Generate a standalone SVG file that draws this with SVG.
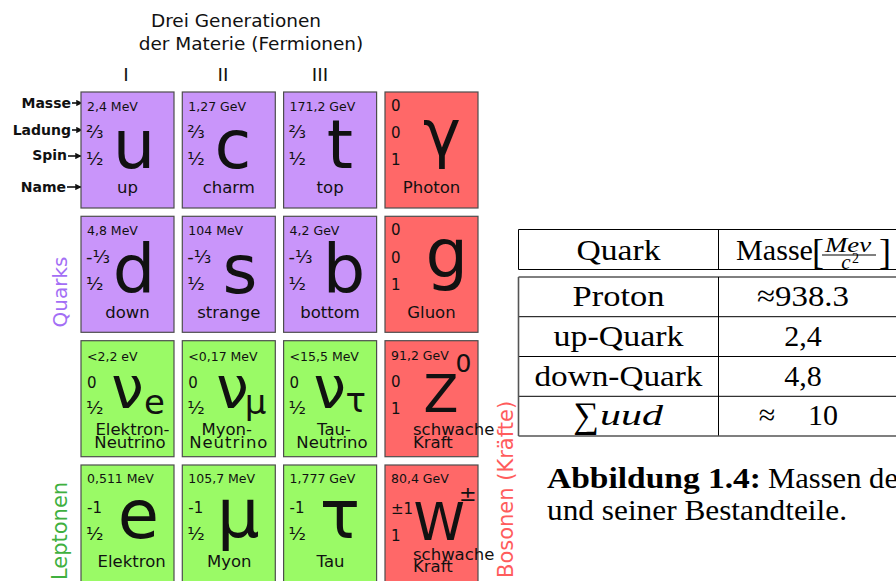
<svg xmlns="http://www.w3.org/2000/svg" width="896" height="581" viewBox="0 0 896 581">
  <defs>
    <marker id="arr" viewBox="0 0 10 10" refX="9" refY="5" markerWidth="4" markerHeight="4" orient="auto" markerUnits="strokeWidth">
      <path d="M0,0 L10,5 L0,10 z" fill="#111"/>
    </marker>
    <style>
      text { font-family: "DejaVu Sans", "Noto Sans", sans-serif; fill: #111; }
      .box { stroke: #4d4d4d; stroke-width: 1.2; }
      .q { fill: #c995fa; }
      .b { fill: #ff6868; }
      .l { fill: #9afa66; }
      .m { font-size: 12.5px; }
      .v { font-size: 15px; }
      .fr { font-size: 18px; }
      .s { font-size: 67px; text-anchor: middle; }
      .nu { font-size: 58px; text-anchor: middle; }
      .sub { font-size: 34px; }
      .n { font-size: 16.5px; text-anchor: middle; }
      .nl { font-size: 16.5px; }
      .lbl { font-size: 14px; font-weight: bold; text-anchor: end; }
      .hd { font-size: 18.5px; text-anchor: middle; }
      .grp { font-size: 20px; text-anchor: middle; }
      .conn line { stroke: #111; stroke-width: 1.6; }
      .tex { font-family: "Liberation Serif", "DejaVu Serif", serif; font-size: 30px; fill: #000; }
      .it { font-style: italic; }
      .tl { stroke: #000; stroke-width: 1; fill: none; }
    </style>
  </defs>
  <rect width="896" height="581" fill="#fff"/>

  <!-- headings -->
  <g id="heading">
    <text class="hd" x="236" y="27">Drei Generationen</text>
    <text class="hd" x="251" y="50">der Materie (Fermionen)</text>
    <text class="hd" x="126" y="81">I</text>
    <text class="hd" x="223" y="81">II</text>
    <text class="hd" x="320" y="81">III</text>
  </g>

  <!-- property labels -->
  <g id="labels">
    <text class="lbl" x="71" y="108">Masse</text>
    <text class="lbl" x="71" y="135">Ladung</text>
    <text class="lbl" x="67" y="160">Spin</text>
    <text class="lbl" x="66" y="192">Name</text>
  </g>
  <g class="conn" id="connectors">
    <line x1="72" y1="103" x2="82" y2="103" marker-end="url(#arr)"/>
    <line x1="72" y1="130" x2="82" y2="130" marker-end="url(#arr)"/>
    <line x1="68" y1="156" x2="81" y2="156" marker-end="url(#arr)"/>
    <line x1="67" y1="187" x2="81" y2="187" marker-end="url(#arr)"/>
  </g>

  <!-- group labels -->
  <g id="group-labels">
    <text class="grp" transform="translate(67,292) rotate(-90)" style="fill:#a36ef5">Quarks</text>
    <text class="grp" transform="translate(67,531) rotate(-90)" style="fill:#3fb03f;font-size:21px">Leptonen</text>
    <text transform="translate(513,578) rotate(-90)" style="fill:#ff5c5c;font-size:21px">Bosonen (Kräfte)</text>
  </g>

  <!-- row 1 -->
  <g id="up" transform="translate(81,92)">
    <rect class="box q" width="93" height="116"/>
    <text class="m" x="6" y="19">2,4 MeV</text>
    <text class="fr" x="5" y="45.5">⅔</text>
    <text class="fr" x="5" y="73">½</text>
    <text class="s" x="53" y="75.5">u</text>
    <text class="n" x="46.5" y="101">up</text>
  </g>
  <g id="charm" transform="translate(182.3,92)">
    <rect class="box q" width="93" height="116"/>
    <text class="m" x="6" y="19">1,27 GeV</text>
    <text class="fr" x="5" y="45.5">⅔</text>
    <text class="fr" x="5" y="73">½</text>
    <text class="s" x="50.7" y="75.5">c</text>
    <text class="n" x="46.5" y="101">charm</text>
  </g>
  <g id="top" transform="translate(283.6,92)">
    <rect class="box q" width="93" height="116"/>
    <text class="m" x="6" y="19">171,2 GeV</text>
    <text class="fr" x="5" y="45.5">⅔</text>
    <text class="fr" x="5" y="73">½</text>
    <text class="s" x="56.4" y="75.5">t</text>
    <text class="n" x="46.5" y="101">top</text>
  </g>
  <g id="photon" transform="translate(385,92)">
    <rect class="box b" width="93" height="116"/>
    <text class="v" x="6" y="19">0</text>
    <text class="v" x="6" y="45.5">0</text>
    <text class="v" x="6" y="73">1</text>
    <text class="s" x="57" y="64" style="font-size:64px">γ</text>
    <text class="n" x="46.5" y="101">Photon</text>
  </g>

  <!-- row 2 -->
  <g id="down" transform="translate(81,216.3)">
    <rect class="box q" width="93" height="116"/>
    <text class="m" x="6" y="19">4,8 MeV</text>
    <text class="fr" x="5" y="46.5">-⅓</text>
    <text class="fr" x="5" y="74">½</text>
    <text class="s" x="53" y="77">d</text>
    <text class="n" x="46.5" y="101.7">down</text>
  </g>
  <g id="strange" transform="translate(182.3,216.3)">
    <rect class="box q" width="93" height="116"/>
    <text class="m" x="6" y="19">104 MeV</text>
    <text class="fr" x="5" y="46.5">-⅓</text>
    <text class="fr" x="5" y="74">½</text>
    <text class="s" x="57.7" y="77">s</text>
    <text class="n" x="46.5" y="101.7">strange</text>
  </g>
  <g id="bottom" transform="translate(283.6,216.3)">
    <rect class="box q" width="93" height="116"/>
    <text class="m" x="6" y="19">4,2 GeV</text>
    <text class="fr" x="5" y="46.5">-⅓</text>
    <text class="fr" x="5" y="74">½</text>
    <text class="s" x="60.4" y="77">b</text>
    <text class="n" x="46.5" y="101.7">bottom</text>
  </g>
  <g id="gluon" transform="translate(385,216.3)">
    <rect class="box b" width="93" height="116"/>
    <text class="v" x="6" y="19">0</text>
    <text class="v" x="6" y="46.5">0</text>
    <text class="v" x="6" y="74">1</text>
    <text class="s" x="61.7" y="61">g</text>
    <text class="n" x="46.5" y="101.7">Gluon</text>
  </g>

  <!-- row 3 -->
  <g id="electron-neutrino" transform="translate(81,340.7)">
    <rect class="box l" width="93" height="116"/>
    <text class="m" x="6" y="20">&lt;2,2 eV</text>
    <text class="v" x="6" y="47">0</text>
    <text class="fr" x="5" y="73.3">½</text>
    <text class="nu" x="46.5" y="67.3">ν</text>
    <text class="sub" x="63" y="73.3">e</text>
    <text class="n" x="51.5" y="94.3">Elektron-</text>
    <text class="n" x="49" y="107.6">Neutrino</text>
  </g>
  <g id="muon-neutrino" transform="translate(182.3,340.7)">
    <rect class="box l" width="93" height="116"/>
    <text class="m" x="6" y="20">&lt;0,17 MeV</text>
    <text class="v" x="6" y="47">0</text>
    <text class="fr" x="5" y="73.3">½</text>
    <text class="nu" x="50.2" y="67.3">ν</text>
    <text class="sub" x="62.5" y="73.3">μ</text>
    <text class="n" x="44.4" y="94.3">Myon-</text>
    <text class="n" x="46.5" y="107.6" letter-spacing="1">Neutrino</text>
  </g>
  <g id="tau-neutrino" transform="translate(283.6,340.7)">
    <rect class="box l" width="93" height="116"/>
    <text class="m" x="6" y="20">&lt;15,5 MeV</text>
    <text class="v" x="6" y="47">0</text>
    <text class="fr" x="5" y="73.3">½</text>
    <text class="nu" x="46.1" y="67.3">ν</text>
    <text class="sub" x="62" y="71">τ</text>
    <text class="n" x="50.4" y="94.3">Tau-</text>
    <text class="n" x="48.4" y="107.6">Neutrino</text>
  </g>
  <g id="z-boson" transform="translate(385,340.7)">
    <rect class="box b" width="93" height="116"/>
    <text class="m" x="6" y="19.5">91,2 GeV</text>
    <text class="v" x="6" y="46">0</text>
    <text class="v" x="6" y="73.3">1</text>
    <text class="s" x="56" y="71" style="font-size:51px">Z</text>
    <text x="70.5" y="31" style="font-size:25px">0</text>
    <text class="nl" x="28" y="94.3">schwache</text>
    <text class="nl" x="28" y="107.6">Kraft</text>
  </g>

  <!-- row 4 -->
  <g id="electron" transform="translate(81,465)">
    <rect class="box l" width="93" height="117"/>
    <text class="m" x="6" y="18.3">0,511 MeV</text>
    <text class="v" x="6" y="48">-1</text>
    <text class="fr" x="5" y="75">½</text>
    <text class="s" x="57.3" y="73">e</text>
    <text class="n" x="50.7" y="101.7">Elektron</text>
  </g>
  <g id="muon" transform="translate(182.3,465)">
    <rect class="box l" width="93" height="117"/>
    <text class="m" x="6" y="18.3">105,7 MeV</text>
    <text class="v" x="6" y="48">-1</text>
    <text class="fr" x="5" y="75">½</text>
    <text class="s" x="56" y="72">μ</text>
    <text class="n" x="46.9" y="101.7">Myon</text>
  </g>
  <g id="tau" transform="translate(283.6,465)">
    <rect class="box l" width="93" height="117"/>
    <text class="m" x="6" y="18.3">1,777 GeV</text>
    <text class="v" x="6" y="48">-1</text>
    <text class="fr" x="5" y="75">½</text>
    <text class="s" x="56.4" y="73">τ</text>
    <text class="n" x="46.9" y="101.7">Tau</text>
  </g>
  <g id="w-boson" transform="translate(385,465)">
    <rect class="box b" width="93" height="117"/>
    <text class="m" x="6" y="18.3">80,4 GeV</text>
    <text class="v" x="6" y="49">±1</text>
    <text class="v" x="6" y="75.7">1</text>
    <text class="s" x="54.2" y="75" style="font-size:52px">W</text>
    <text x="74" y="36" style="font-size:21px">±</text>
    <text class="nl" x="28" y="95">schwache</text>
    <text class="nl" x="28" y="107.3">Kraft</text>
  </g>

  <!-- mass table -->
  <g id="mass-table">
    <path class="tl" d="M518.5,229.5 H900 M518.5,269.5 H900 M518.5,229.5 V269.5 M718.5,229.5 V269.5"/>
    <path class="tl" d="M518.5,277 H900 M518.5,316.7 H900 M518.5,356.5 H900 M718.5,277 V436"/>
    <path class="tl" d="M518.5,396.3 H900"/>
    <path d="M518.5,277 V436 M518.5,436 H900" stroke="#555" stroke-width="1.6" fill="none"/>
    <text class="tex" x="618.5" y="260" text-anchor="middle" textLength="84" lengthAdjust="spacingAndGlyphs">Quark</text>
    <text class="tex" x="736" y="260" textLength="77" lengthAdjust="spacingAndGlyphs">Masse</text>
    <text class="tex" x="812" y="264" style="font-size:36px">[</text>
    <text class="tex it" x="848" y="251.5" text-anchor="middle" style="font-size:22px" textLength="46" lengthAdjust="spacingAndGlyphs">Mev</text>
    <line x1="822" y1="255" x2="876" y2="255" stroke="#000" stroke-width="1"/>
    <text class="tex it" x="846" y="268.5" text-anchor="middle" style="font-size:21px">c</text>
    <text class="tex" x="852" y="263" style="font-size:14px">2</text>
    <text class="tex" x="879" y="264" style="font-size:36px">]</text>

    <text class="tex" x="618.5" y="306" text-anchor="middle" textLength="92" lengthAdjust="spacingAndGlyphs">Proton</text>
    <text class="tex" x="803" y="306" text-anchor="middle" textLength="92" lengthAdjust="spacingAndGlyphs">≈938.3</text>
    <text class="tex" x="618.5" y="346" text-anchor="middle" textLength="130" lengthAdjust="spacingAndGlyphs">up-Quark</text>
    <text class="tex" x="803" y="346" text-anchor="middle">2,4</text>
    <text class="tex" x="618.5" y="386" text-anchor="middle" textLength="168" lengthAdjust="spacingAndGlyphs">down-Quark</text>
    <text class="tex" x="803" y="386" text-anchor="middle">4,8</text>
    <text class="tex" x="586" y="427" text-anchor="middle" style="font-size:36px">∑</text>
    <text class="tex it" x="600" y="425" textLength="63" lengthAdjust="spacingAndGlyphs">uud</text>
    <text class="tex" x="767" y="425" text-anchor="middle">≈</text>
    <text class="tex" x="823" y="425" text-anchor="middle">10</text>
  </g>

  <!-- caption -->
  <g id="caption">
    <text class="tex" x="547" y="488" style="font-size:29px;font-weight:bold" textLength="214" lengthAdjust="spacingAndGlyphs">Abbildung 1.4:</text>
    <text class="tex" x="768" y="488" style="font-size:29px" textLength="130" lengthAdjust="spacingAndGlyphs">Massen de</text>
    <text class="tex" x="547" y="520" style="font-size:29px" textLength="300" lengthAdjust="spacingAndGlyphs">und seiner Bestandteile.</text>
  </g>
</svg>
